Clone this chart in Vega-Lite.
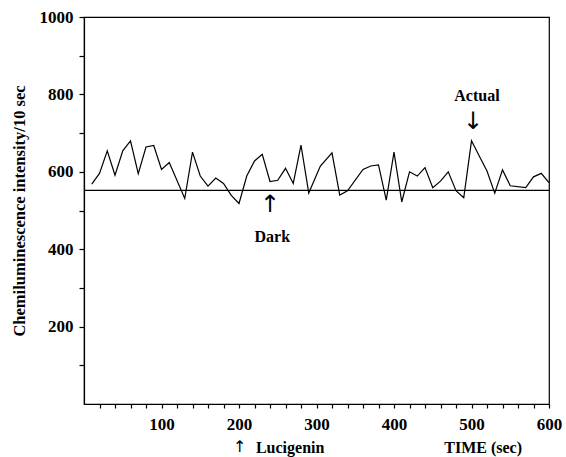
{
  "$schema": "https://vega.github.io/schema/vega-lite/v6.json",
  "width": 465,
  "height": 387,
  "autosize": {"type": "none"},
  "padding": {"left": 84, "top": 17, "right": 17, "bottom": 53},
  "background": "white",
  "config": {
    "view": {"stroke": "black", "strokeWidth": 1.2},
    "font": "Liberation Serif",
    "axis": {"grid": false, "domainColor": "black", "tickColor": "black", "labelColor": "black", "titleColor": "black", "labelFont": "Liberation Serif", "titleFont": "Liberation Serif", "labelFontWeight": "bold", "titleFontWeight": "bold", "labelFontSize": 17, "domainWidth": 1.2, "tickWidth": 1.2}
  },
  "datasets": {
    "series": [
      {"t": 10, "v": 568}, {"t": 20, "v": 596}, {"t": 30, "v": 654}, {"t": 40, "v": 591},
      {"t": 50, "v": 654}, {"t": 60, "v": 680}, {"t": 70, "v": 595}, {"t": 80, "v": 664},
      {"t": 90, "v": 668}, {"t": 100, "v": 606}, {"t": 110, "v": 624}, {"t": 130, "v": 531},
      {"t": 140, "v": 651}, {"t": 150, "v": 589}, {"t": 160, "v": 563}, {"t": 170, "v": 584},
      {"t": 180, "v": 570}, {"t": 190, "v": 539}, {"t": 200, "v": 518}, {"t": 210, "v": 589},
      {"t": 220, "v": 628}, {"t": 230, "v": 645}, {"t": 240, "v": 575}, {"t": 250, "v": 578},
      {"t": 260, "v": 609}, {"t": 270, "v": 570}, {"t": 280, "v": 669}, {"t": 290, "v": 545},
      {"t": 305, "v": 615}, {"t": 320, "v": 649}, {"t": 330, "v": 540}, {"t": 340, "v": 551},
      {"t": 360, "v": 606}, {"t": 370, "v": 615}, {"t": 380, "v": 618}, {"t": 390, "v": 527},
      {"t": 400, "v": 651}, {"t": 410, "v": 522}, {"t": 420, "v": 600}, {"t": 430, "v": 589},
      {"t": 440, "v": 611}, {"t": 450, "v": 559}, {"t": 460, "v": 576}, {"t": 470, "v": 600},
      {"t": 480, "v": 551}, {"t": 490, "v": 533}, {"t": 500, "v": 680}, {"t": 510, "v": 641},
      {"t": 520, "v": 602}, {"t": 530, "v": 545}, {"t": 540, "v": 605}, {"t": 550, "v": 564},
      {"t": 570, "v": 559}, {"t": 580, "v": 587}, {"t": 590, "v": 596}, {"t": 600, "v": 572}
    ],
    "labels": [
      {"t": 507, "v": 795, "text": "Actual"},
      {"t": 243, "v": 432, "text": "Dark"},
      {"t": 266, "v": -114, "text": "Lucigenin"},
      {"t": 515, "v": -114, "text": "TIME (sec)"}
    ],
    "arrows": [
      {"t": 502, "v": 728, "text": "↓", "size": 24},
      {"t": 240, "v": 514, "text": "↑", "size": 24},
      {"t": 201, "v": -112, "text": "↑", "size": 16}
    ],
    "dark": [{"v": 552}]
  },
  "layer": [
    {
      "data": {"name": "series"},
      "mark": {"type": "line", "color": "black", "strokeWidth": 1.2},
      "encoding": {
        "x": {"field": "t", "type": "quantitative", "scale": {"domain": [0, 600], "nice": false},
          "axis": {"title": null, "tickCount": 60, "values": [20,40,60,80,100,120,140,160,180,200,220,240,260,280,300,320,340,360,380,400,420,440,460,480,500,520,540,560,580,600],
            "labelExpr": "datum.value % 100 === 0 ? datum.label : ''",
            "tickSize": 4, "labelPadding": 8, "labelFlush": false, "labelOverlap": false}},
        "y": {"field": "v", "type": "quantitative", "scale": {"domain": [0, 1000], "nice": false},
          "axis": {"title": "Chemiluminescence intensity/10 sec", "titleFontSize": 16.5, "titlePadding": 12, "tickCount": 40,
            "values": [100,200,300,400,500,600,700,800,900,1000], "format": "d",
            "labelExpr": "datum.value % 200 === 0 ? datum.label : ''",
            "labelPadding": 6, "tickSize": 5, "labelFlush": false, "labelOverlap": false}}
      }
    },
    {
      "data": {"name": "dark"},
      "mark": {"type": "rule", "color": "black", "strokeWidth": 1.2},
      "encoding": {"y": {"field": "v", "type": "quantitative"}}
    },
    {
      "data": {"name": "labels"},
      "mark": {"type": "text", "fontWeight": "bold", "font": "Liberation Serif", "fontSize": 16, "color": "black", "baseline": "middle", "align": "center", "clip": false},
      "encoding": {
        "x": {"field": "t", "type": "quantitative"},
        "y": {"field": "v", "type": "quantitative"},
        "text": {"field": "text"}
      }
    },
    {
      "data": {"name": "arrows"},
      "mark": {"type": "text", "font": "DejaVu Sans", "color": "black", "baseline": "middle", "align": "center", "clip": false},
      "encoding": {
        "x": {"field": "t", "type": "quantitative"},
        "y": {"field": "v", "type": "quantitative"},
        "text": {"field": "text"},
        "size": {"field": "size", "type": "quantitative", "scale": null}
      }
    }
  ]
}
